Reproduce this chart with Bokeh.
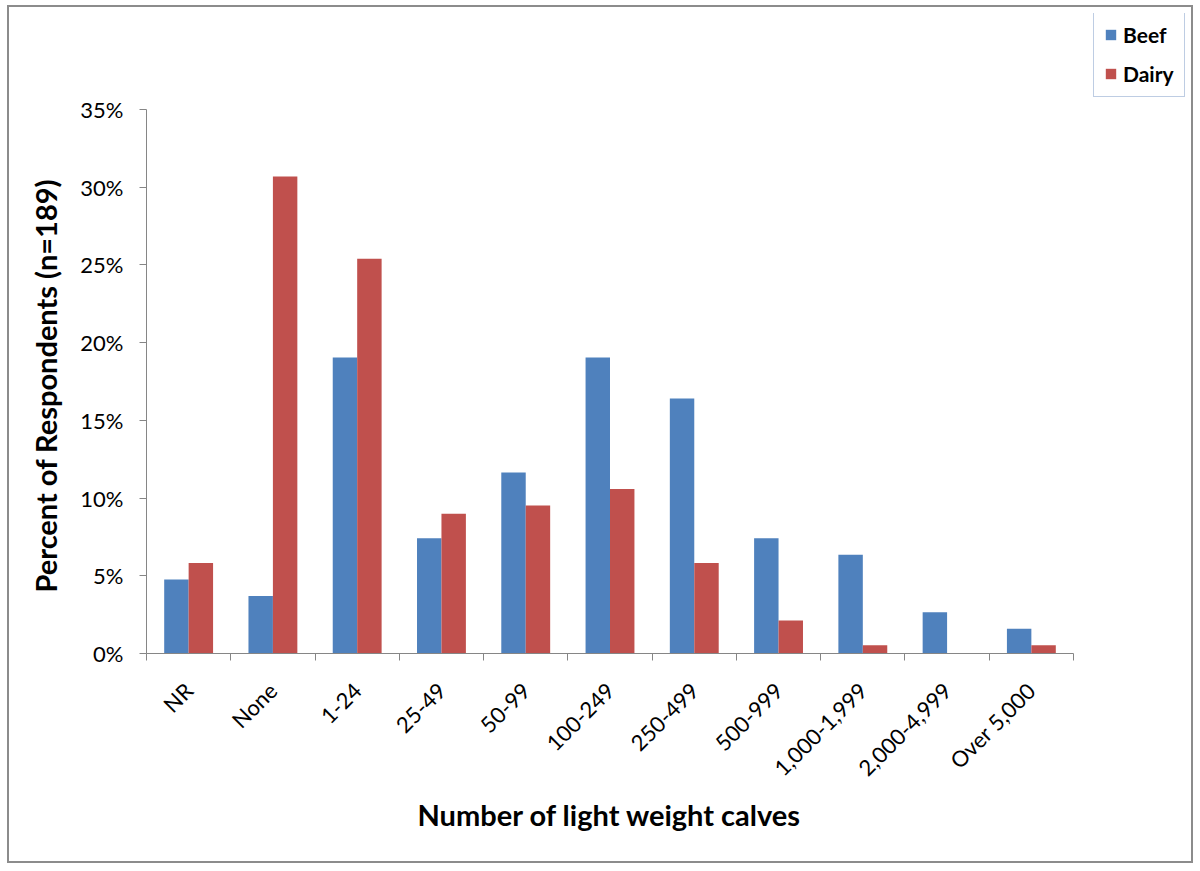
import numpy as np
from math import pi
from bokeh.plotting import figure
from bokeh.models import (ColumnDataSource, Range1d, FixedTicker, PrintfTickFormatter,
                          CustomJSTickFormatter, Title)
from bokeh.transform import dodge
from bokeh.embed import file_html
from bokeh.resources import INLINE

categories = ["NR", "None", "1-24", "25-49", "50-99", "100-249", "250-499",
              "500-999", "1,000-1,999", "2,000-4,999", "Over 5,000"]
beef = [4.76, 3.70, 19.05, 7.41, 11.64, 19.05, 16.40, 7.41, 6.35, 2.65, 1.59]
dairy = [5.82, 30.69, 25.40, 8.99, 9.52, 10.58, 5.82, 2.12, 0.53, 0.0, 0.53]
y_ticks = [0, 5, 10, 15, 20, 25, 30, 35]
y_max = 35

BLUE = "#4F81BD"
RED = "#C0504D"
AXIS = "#868686"
FONT = "Lato"

n = len(categories)
pos = [i + 0.5 for i in range(n)]
src = ColumnDataSource(dict(pos=pos, beef=beef, dairy=dairy))

# plot area: 927 x 544 px for the axes; frame extended right/up to hold the legend
AX_W, AX_H = 927, 544
FW, FH = 1042, 640
p = figure(frame_width=FW, frame_height=FH,
           x_range=Range1d(0, n * FW / AX_W), y_range=Range1d(0, y_max * FH / AX_H),
           output_backend="svg", toolbar_location=None,
           min_border_left=137, min_border_right=3,
           min_border_top=6, min_border_bottom=208)
p.styles = {"border": "2px solid #8c8c8c", "margin-left": "7px", "margin-top": "5px"}
p.outline_line_color = None
p.xgrid.grid_line_color = None
p.ygrid.grid_line_color = None
p.background_fill_color = "white"
p.border_fill_color = "white"

bw = 0.29
p.vbar(x=dodge("pos", -bw / 2), top="beef", width=bw, source=src,
       fill_color=BLUE, line_color=None, legend_label="Beef")
p.vbar(x=dodge("pos", bw / 2), top="dairy", width=bw, source=src,
       fill_color=RED, line_color=None, legend_label="Dairy")

# x axis
xa = p.xaxis[0]
xa.bounds = (0, n)
xa.ticker = FixedTicker(ticks=pos, minor_ticks=list(range(n + 1)))
xa.formatter = CustomJSTickFormatter(args=dict(cats=categories),
                                     code="return cats[Math.floor(tick)] || '';")
xa.major_tick_out = 0
xa.major_tick_in = 0
xa.minor_tick_out = 7
xa.minor_tick_in = 0
xa.minor_tick_line_color = AXIS
xa.axis_line_color = AXIS
xa.major_label_orientation = pi / 4
xa.major_label_standoff = 26
xa.major_label_text_font = FONT
xa.major_label_text_font_size = "22px"
xa.major_label_text_color = "black"

# y axis
ya = p.yaxis[0]
ya.bounds = (0, y_max)
ya.ticker = FixedTicker(ticks=y_ticks)
ya.formatter = PrintfTickFormatter(format="%d%%")
ya.major_tick_out = 7
ya.major_tick_in = 0
ya.minor_tick_out = 0
ya.minor_tick_in = 0
ya.major_tick_line_color = AXIS
ya.axis_line_color = AXIS
ya.major_label_standoff = 16
ya.major_label_text_font = FONT
ya.major_label_text_font_size = "22px"
ya.major_label_text_color = "black"

# axis titles
yt = Title(text="Percent of Respondents (n=189)", align="left", offset=61,
           vertical_align="bottom", standoff=30,
           text_font=FONT, text_font_size="29px", text_font_style="bold",
           text_color="black")
p.add_layout(yt, "left")
xt = Title(text="Number of light weight calves", align="left", offset=271,
           vertical_align="top", standoff=6,
           text_font=FONT, text_font_size="29px", text_font_style="bold",
           text_color="black")
p.add_layout(xt, "below")

lg = p.legend[0]
lg.location = (947, 556)
lg.border_line_color = "#7E9BC8"
lg.border_line_width = 1.5
lg.background_fill_color = "white"
lg.label_text_font = FONT
lg.label_text_font_size = "21px"
lg.label_text_font_style = "bold"
lg.label_text_color = "black"
lg.glyph_width = 13
lg.glyph_height = 13
lg.label_standoff = 6
lg.label_height = 24
lg.spacing = 14
lg.padding = 10
lg.margin = 0

open("out.html", "w").write(file_html(p, INLINE))
